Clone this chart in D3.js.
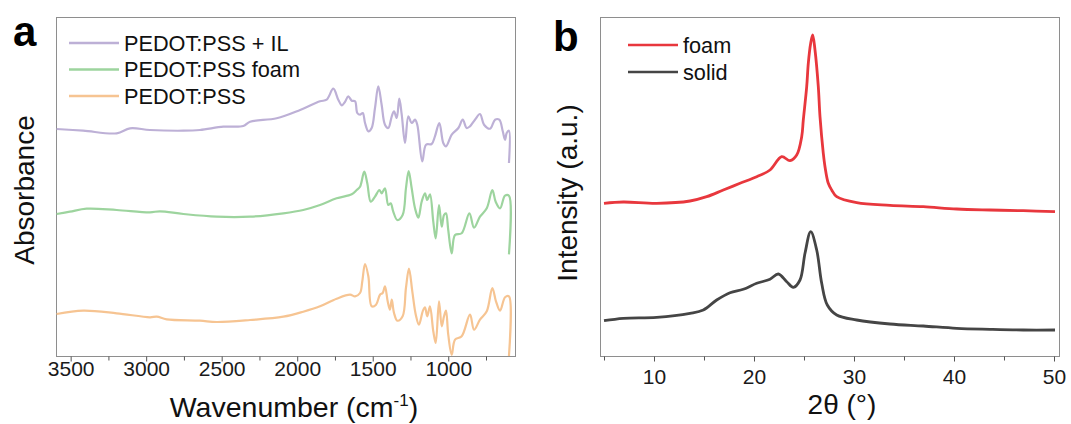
<!DOCTYPE html>
<html>
<head>
<meta charset="utf-8">
<script src="https://cdn.jsdelivr.net/npm/d3@7"></script>
<style>
  body { margin: 0; background: #ffffff; }
  svg { display: block; }
</style>
</head>
<body>
<div id="chart"></div>
<script>
// ---- panel a: FTIR, wavenumber (cm-1) vs absorbance (a.u., stacked) ----
const ilWavenumber = [3593, 3417, 3195, 3107, 2975, 2754, 2644, 2489, 2357, 2312, 2136, 1981, 1849, 1805, 1761, 1728, 1705, 1684, 1662, 1639, 1617, 1602, 1584, 1566, 1551, 1529, 1507, 1485, 1463, 1441, 1419, 1397, 1374, 1359, 1341, 1324, 1308, 1286, 1264, 1242, 1220, 1205, 1172, 1147, 1110, 1088, 1059, 1033, 1015, 977, 933, 904, 878, 856, 823, 790, 763, 723, 690, 662, 639, 624, 613, 598, 598];
const ilAbsorbance = [227, 225.3, 222.7, 227.7, 226, 225.3, 226, 229.3, 230, 234.3, 237.7, 246, 254.7, 256.3, 267.3, 256.3, 250.7, 254, 259.7, 255.3, 254.7, 243, 241.3, 243, 233, 224.7, 228, 248, 269.7, 251.3, 231.3, 228, 239.7, 244.7, 238, 257.3, 241.3, 213, 239.7, 233, 236.3, 231.3, 194.7, 211.3, 212, 219.7, 233, 213, 209.7, 221.3, 228, 236.3, 228, 229.7, 236.3, 242, 231.3, 227.3, 236.3, 236.3, 224.7, 216.3, 223, 225.3, 193];

const foamWavenumber = [3593, 3505, 3394, 3195, 2975, 2909, 2754, 2533, 2312, 2092, 1960, 1849, 1739, 1639, 1606, 1584, 1556, 1536, 1513, 1485, 1456, 1441, 1419, 1397, 1381, 1364, 1337, 1302, 1280, 1262, 1242, 1220, 1198, 1176, 1154, 1139, 1121, 1099, 1083, 1061, 1043, 1028, 1015, 1000, 977, 955, 911, 860, 829, 790, 745, 708, 686, 657, 624, 598, 598];
const foamAbsorbance = [142, 144.3, 147.3, 146, 143.7, 144.7, 142, 139.3, 139.3, 142.7, 146, 151, 157.7, 161.7, 166, 169.3, 184.3, 172.7, 154.3, 159.3, 166, 162.7, 167.7, 151, 152.7, 144.3, 136, 141, 167.7, 185, 167.7, 147.7, 138.3, 154.3, 162.7, 156, 161.7, 134.3, 117.7, 151, 129.3, 141, 142.7, 126, 102.7, 121, 122.7, 142.7, 128.3, 139.3, 147.7, 166, 154.3, 147.7, 160.3, 160.3, 101.7];

const pssWavenumber = [3593, 3417, 3195, 2975, 2930, 2864, 2644, 2533, 2312, 2092, 1960, 1849, 1739, 1650, 1617, 1584, 1569, 1551, 1529, 1507, 1478, 1452, 1434, 1419, 1401, 1386, 1374, 1359, 1337, 1302, 1280, 1260, 1238, 1215, 1194, 1169, 1154, 1139, 1121, 1099, 1083, 1061, 1043, 1028, 1015, 1000, 977, 955, 911, 856, 829, 790, 745, 708, 684, 657, 624, 598, 598];
const pssAbsorbance = [42, 45.3, 42.7, 38.7, 39.3, 36.7, 35.3, 34, 36, 39.3, 44.3, 49.7, 57.3, 61.3, 59.7, 63, 74.7, 92, 79.7, 49.7, 51.3, 61.3, 63, 69.7, 54.7, 46.3, 56.3, 43, 35.3, 39.7, 68, 87.3, 64.7, 41.3, 31.3, 44.7, 48.7, 39.7, 49.7, 24.7, 13, 54.7, 29.7, 39.7, 45.3, 21.3, 1.3, 16.3, 19.7, 41.3, 26.3, 36.3, 44.7, 68, 54.7, 45.3, 58.7, 59.7, 0];

const ftirNames = ["PEDOT:PSS + IL", "PEDOT:PSS foam", "PEDOT:PSS"];
const ftirTicks = [3500, 3000, 2500, 2000, 1500, 1000];
const ftirMinorTicks = [3250, 2750, 2250, 1750, 1250, 750];

// ---- panel b: XRD, 2theta (deg) vs intensity (a.u., stacked) ----
const foamTheta = [5.0, 6.93, 10.27, 13.6, 15.27, 16.93, 18.6, 20.27, 21.6, 22.77, 23.6, 24.27, 24.77, 24.93, 25.27, 25.43, 25.67, 25.87, 26.1, 26.43, 26.6, 26.93, 27.1, 27.43, 27.77, 28.27, 30.27, 33.6, 36.93, 40.27, 43.6, 46.93, 50.1];
const foamIntensity = [152.7, 154, 152.7, 155, 159.3, 166, 172.7, 179.3, 186, 199.3, 195.3, 201, 219.3, 236, 269.3, 292.7, 312.7, 321, 306, 269.3, 239.3, 202.7, 189.3, 172.7, 166, 159.3, 153.3, 150.7, 149.3, 147, 146, 145.3, 144.3];

const solidTheta = [5.0, 6.93, 10.27, 13.6, 14.93, 16.27, 17.6, 18.93, 20.27, 21.6, 22.43, 23.27, 23.93, 24.6, 25.1, 25.67, 26.27, 26.77, 27.33, 28.27, 30.27, 33.6, 36.93, 40.27, 43.6, 46.93, 50.1];
const solidIntensity = [35.3, 37.7, 38.7, 42.7, 46, 56, 63.3, 66.7, 72.7, 76.7, 82, 74.3, 68.7, 76, 102.7, 124.3, 106, 72.7, 51, 41, 36, 32, 30, 27.7, 26.7, 26, 26];

const xrdNames = ["foam", "solid"];
const xrdTicks = [10, 20, 30, 40, 50];
const xrdMinorTicks = [5, 15, 25, 35, 45];

const font = "'Liberation Sans', Arial, sans-serif";
const width = 1071;
const height = 424;

const svg = d3.select("#chart")
  .append("svg")
  .attr("width", width)
  .attr("height", height)
  .style("background", "#ffffff");

function drawPanel(opts) {
  const x = d3.scaleLinear().domain(opts.xDomain).range([opts.left, opts.right]);
  const y = d3.scaleLinear().domain([0, 339]).range([opts.bottom, opts.top]);

  // frame
  svg.append("rect")
    .attr("x", opts.left + 0.5)
    .attr("y", opts.top + 0.5)
    .attr("width", opts.right - opts.left)
    .attr("height", opts.bottom - opts.top)
    .attr("fill", "none")
    .attr("stroke", "#8e8e8e")
    .attr("stroke-width", 1);

  // minor ticks
  svg.append("g")
    .attr("transform", `translate(0, ${opts.bottom + 0.5})`)
    .call(d3.axisBottom(x).tickValues(opts.minorTicks).tickSize(4).tickSizeOuter(0).tickFormat(""))
    .call(g => g.select(".domain").remove())
    .selectAll("line").attr("stroke", "#555");

  // major ticks + labels
  const ax = svg.append("g")
    .attr("transform", `translate(0, ${opts.bottom + 0.5})`)
    .call(d3.axisBottom(x).tickValues(opts.ticks).tickSize(5).tickSizeOuter(0)
      .tickPadding(opts.tickPad).tickFormat(d3.format("d")))
    .call(g => g.select(".domain").remove());
  ax.selectAll("line").attr("stroke", "#555");
  ax.selectAll("text")
    .style("font-family", font)
    .style("font-size", "21px")
    .attr("fill", "#1a1a1a");

  // spectra
  const line = d3.line()
    .x(d => x(d[0]))
    .y(d => y(d[1]))
    .curve(d3.curveCatmullRom.alpha(0.5));

  opts.series.forEach(s => {
    svg.append("path")
      .datum(d3.zip(s.x, s.y))
      .attr("fill", "none")
      .attr("stroke", s.color)
      .attr("stroke-width", opts.lineWidth)
      .attr("stroke-linejoin", "round")
      .attr("d", line);
  });

  // legend
  const legend = svg.append("g");
  opts.series.forEach((s, i) => {
    const ly = opts.legendY + i * opts.legendStep;
    legend.append("line")
      .attr("x1", opts.legendX)
      .attr("x2", opts.legendX + 50)
      .attr("y1", ly)
      .attr("y2", ly)
      .attr("stroke", s.color)
      .attr("stroke-width", 2.5);
    legend.append("text")
      .attr("x", opts.legendX + 55)
      .attr("y", ly)
      .attr("dy", "0.36em")
      .style("font-family", font)
      .style("font-size", "21.7px")
      .attr("fill", "#111")
      .text(s.name);
  });
}

drawPanel({
  left: 56, right: 515, top: 17, bottom: 356,
  xDomain: [3597, 558],
  ticks: ftirTicks, minorTicks: ftirMinorTicks, tickPad: 0,
  lineWidth: 2.2,
  legendX: 69, legendY: 43, legendStep: 26.5,
  series: [
    { name: ftirNames[0], color: "#bdb0d6", x: ilWavenumber, y: ilAbsorbance },
    { name: ftirNames[1], color: "#9dd49e", x: foamWavenumber, y: foamAbsorbance },
    { name: ftirNames[2], color: "#f6c492", x: pssWavenumber, y: pssAbsorbance }
  ]
});

drawPanel({
  left: 600, right: 1059, top: 17, bottom: 356,
  xDomain: [4.6, 50.5],
  ticks: xrdTicks, minorTicks: xrdMinorTicks, tickPad: 8,
  lineWidth: 2.8,
  legendX: 628, legendY: 45, legendStep: 27,
  series: [
    { name: xrdNames[0], color: "#e8373d", x: foamTheta, y: foamIntensity },
    { name: xrdNames[1], color: "#454545", x: solidTheta, y: solidIntensity }
  ]
});

// axis titles
const wn = svg.append("text")
  .attr("x", 294)
  .attr("y", 417)
  .attr("text-anchor", "middle")
  .style("font-family", font)
  .style("font-size", "28.5px")
  .attr("fill", "#111");
wn.append("tspan").text("Wavenumber (cm");
wn.append("tspan").attr("dy", -11).style("font-size", "17px").text("-1");
wn.append("tspan").attr("dy", 11).text(")");

svg.append("text")
  .attr("x", 842)
  .attr("y", 414)
  .attr("text-anchor", "middle")
  .style("font-family", font)
  .style("font-size", "28px")
  .attr("fill", "#111")
  .text("2θ (°)");

svg.append("text")
  .attr("transform", "rotate(-90)")
  .attr("x", -190)
  .attr("y", 33.5)
  .attr("text-anchor", "middle")
  .style("font-family", font)
  .style("font-size", "28px")
  .attr("fill", "#111")
  .text("Absorbance");

svg.append("text")
  .attr("transform", "rotate(-90)")
  .attr("x", -193)
  .attr("y", 577)
  .attr("text-anchor", "middle")
  .style("font-family", font)
  .style("font-size", "28px")
  .attr("fill", "#111")
  .text("Intensity (a.u.)");

// panel letters
svg.append("text")
  .attr("x", 13)
  .attr("y", 46)
  .style("font-family", font)
  .style("font-size", "42px")
  .style("font-weight", "bold")
  .attr("fill", "#000")
  .text("a");

svg.append("text")
  .attr("x", 553)
  .attr("y", 51)
  .style("font-family", font)
  .style("font-size", "42px")
  .style("font-weight", "bold")
  .attr("fill", "#000")
  .text("b");
</script>
</body>
</html>
